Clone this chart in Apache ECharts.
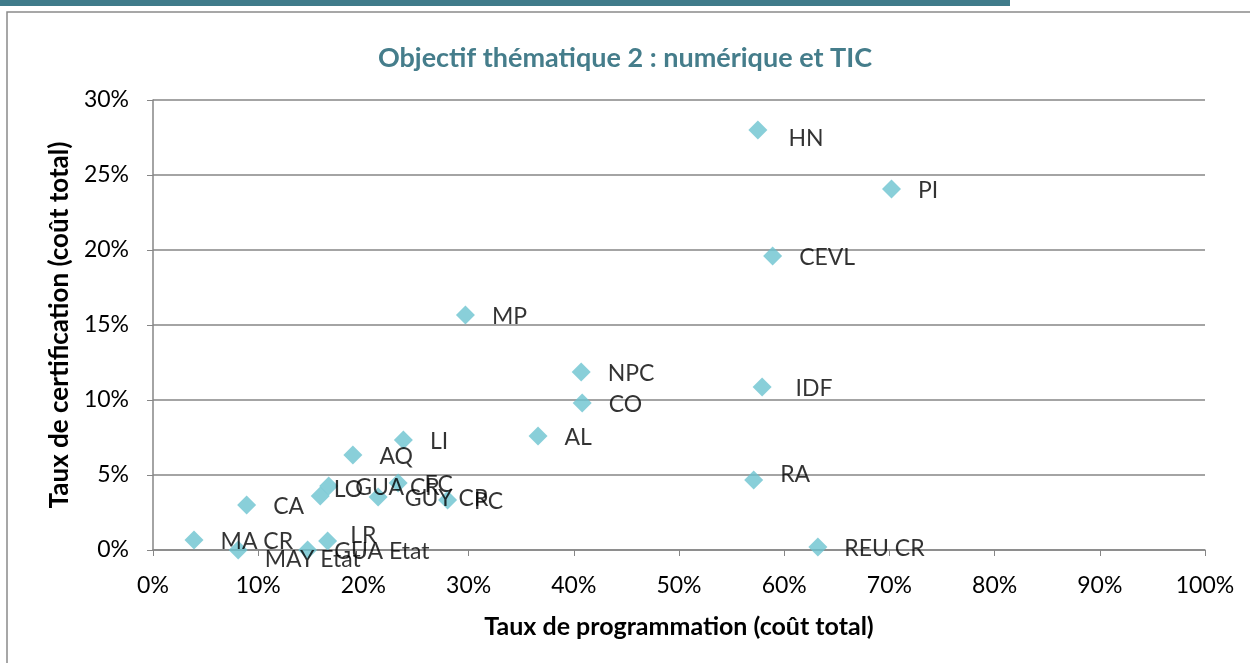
<!DOCTYPE html>
<html>
<head>
<meta charset="utf-8">
<script src="https://cdn.jsdelivr.net/npm/echarts@6/dist/echarts.min.js"></script>
<style>
  html, body { margin: 0; padding: 0; background: #fff; }
  #chart { width: 1250px; height: 663px; }
</style>
</head>
<body>
<div id="chart"></div>
<script>
// Taux de programmation (x) et de certification (y), en %
const names = ['HN', 'PI', 'CEVL', 'MP', 'NPC', 'IDF', 'CO', 'AL', 'LI', 'AQ', 'RA',
  'CA', 'LO', 'GUA CR', 'GUY CR', 'FC', 'PC', 'MA CR', 'MAY Etat', 'GUA Etat', 'LR', 'REU CR']
const programmation = [57.5, 70.2, 58.9, 29.7, 40.7, 57.9, 40.8, 36.6, 23.8, 19.0, 57.1,
  8.9, 15.9, 16.7, 21.4, 23.3, 28.0, 3.9, 8.1, 14.7, 16.6, 63.2]
const certification = [28.0, 24.07, 19.6, 15.67, 11.87, 10.87, 9.8, 7.6, 7.33, 6.33, 4.67,
  3.0, 3.6, 4.27, 3.53, 4.47, 3.33, 0.67, 0.0, 0.0, 0.6, 0.2]
const xTicks = { min: 0, max: 100, interval: 10 }
const yTicks = { min: 0, max: 30, interval: 5 }

// labels that Excel placed a little away from the default spot
const labelNudge = {
  'HN': [4, 9],
  'IDF': [7, 2],
  'RA': [0, -5],
  'MAY Etat': [0, 10],
  'LR': [-4, -5],
  'LO': [-13, -6]
}

const chart = echarts.init(document.getElementById('chart'))
const font = 'Lato, "Open Sans", sans-serif'

const data = names.map((n, i) => {
  const item = { name: n, value: [programmation[i], certification[i]] }
  if (labelNudge[n]) item.label = { offset: labelNudge[n] }
  return item
})

const option = {
  backgroundColor: '#fff',
  animation: false,
  textStyle: { fontFamily: font },
  title: {
    text: 'Objectif thématique 2 : numérique et TIC',
    left: 'center',
    top: 40,
    textStyle: { color: '#457d8b', fontSize: 27, fontWeight: 'bold', fontFamily: font }
  },
  graphic: [
    { type: 'rect', shape: { x: 0, y: 0, width: 1010, height: 6 }, style: { fill: '#3f7b8a' } },
    { type: 'rect', shape: { x: 7, y: 12, width: 1300, height: 720 },
      style: { fill: 'none', stroke: '#8a8a8a', lineWidth: 1.5 } }
  ],
  grid: { left: 153, right: 45, top: 100, bottom: 113 },
  xAxis: {
    type: 'value',
    min: xTicks.min, max: xTicks.max, interval: xTicks.interval,
    name: 'Taux de programmation (coût total)',
    nameLocation: 'middle',
    nameGap: 64,
    nameTextStyle: { fontSize: 25, fontWeight: 'bold', color: '#000', fontFamily: font },
    axisLine: { show: true, lineStyle: { color: '#868686', width: 1.5 } },
    axisTick: { show: true, length: 6, lineStyle: { color: '#868686' } },
    axisLabel: { formatter: '{value}%', fontSize: 23, color: '#000', margin: 24 },
    splitLine: { show: false }
  },
  yAxis: {
    type: 'value',
    min: yTicks.min, max: yTicks.max, interval: yTicks.interval,
    name: 'Taux de certification (coût total)',
    nameLocation: 'middle',
    nameGap: 78,
    nameTextStyle: { fontSize: 26, fontWeight: 'bold', color: '#000', fontFamily: font },
    axisLine: { show: true, lineStyle: { color: '#868686', width: 1.5 } },
    axisTick: { show: true, length: 6, lineStyle: { color: '#868686' } },
    axisLabel: { formatter: '{value}%', fontSize: 23, color: '#000', margin: 24 },
    splitLine: { show: true, lineStyle: { color: '#868686', width: 1.5 } }
  },
  series: [{
    type: 'scatter',
    symbol: 'diamond',
    symbolSize: 19,
    clip: false,
    itemStyle: { color: '#6cc3cf' },
    label: {
      show: true,
      position: 'right',
      distance: 17,
      offset: [0, 2],
      formatter: '{b}',
      fontSize: 23,
      color: '#000',
      fontFamily: font
    },
    data: data
  }]
}

chart.setOption(option)
window.addEventListener('resize', () => chart.resize())
</script>
</body>
</html>
